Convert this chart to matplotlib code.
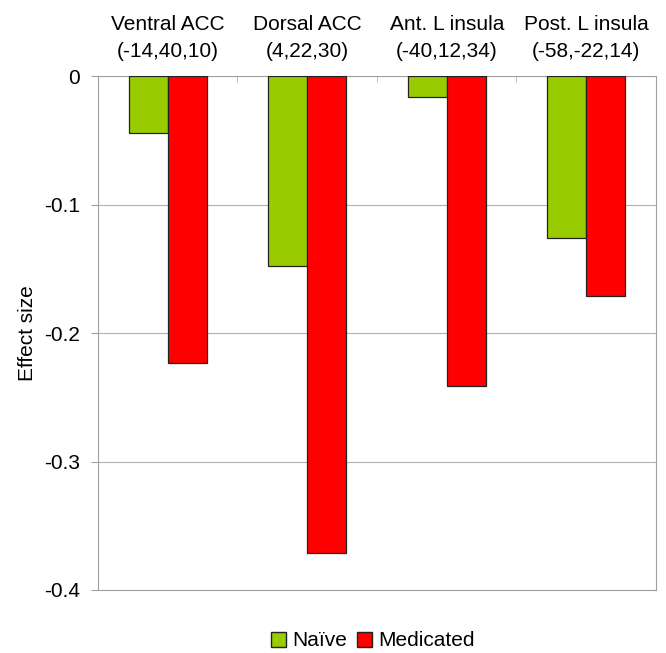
import numpy as np
import matplotlib.pyplot as plt
from matplotlib.patches import Patch

plt.rcParams['font.family'] = ['Liberation Sans', 'DejaVu Sans']

# Data
regions = ['Ventral ACC\n(-14,40,10)', 'Dorsal ACC\n(4,22,30)',
           'Ant. L insula\n(-40,12,34)', 'Post. L insula\n(-58,-22,14)']
naive = [-0.044, -0.148, -0.016, -0.126]
medicated = [-0.223, -0.371, -0.241, -0.171]

fig = plt.figure(figsize=(6.66, 6.53), dpi=100)
ax = fig.add_axes([0.147, 0.0965, 0.838, 0.787])

x = np.arange(len(regions))
w = 0.28
ax.bar(x - w / 2, naive, w, color='#99cc00', edgecolor='#222222', linewidth=0.9, label='Naïve', zorder=3)
ax.bar(x + w / 2, medicated, w, color='#ff0000', edgecolor='#222222', linewidth=0.9, label='Medicated', zorder=3)

ax.set_xlim(-0.5, len(regions) - 0.5)
ax.set_ylim(-0.4, 0)
ax.set_yticks([0, -0.1, -0.2, -0.3, -0.4])
ax.set_yticklabels(['0', '-0.1', '-0.2', '-0.3', '-0.4'], fontsize=15)
ax.yaxis.grid(True, color='#b0b0b0', linewidth=0.8, zorder=0)
ax.set_ylabel('Effect size', fontsize=15, labelpad=5)

ax.xaxis.tick_top()
ax.set_xticks(x)
ax.set_xticklabels(regions, fontsize=15)
for t in ax.xaxis.get_major_ticks():
    t.label2.set_linespacing(1.5)
ax.tick_params(axis='x', length=0, pad=11)
ax.set_xticks(np.arange(len(regions) + 1) - 0.5, minor=True)
ax.tick_params(axis='x', which='minor', direction='in', length=4, color='#b0b0b0', top=True)
ax.tick_params(axis='y', length=5, color='#a0a0a0', pad=8)
for s in ax.spines.values():
    s.set_color('#a0a0a0')

handles = [Patch(facecolor='#99cc00', edgecolor='#222222', label='Naïve'),
           Patch(facecolor='#ff0000', edgecolor='#222222', label='Medicated')]
fig.legend(handles=handles, loc='center', bbox_to_anchor=(373 / 666, 1 - 641 / 653), ncol=2,
           frameon=False, fontsize=15, handlelength=0.7, handleheight=0.7,
           handletextpad=0.3, columnspacing=0.5, borderpad=0)

fig.savefig('out.png', dpi=100)
